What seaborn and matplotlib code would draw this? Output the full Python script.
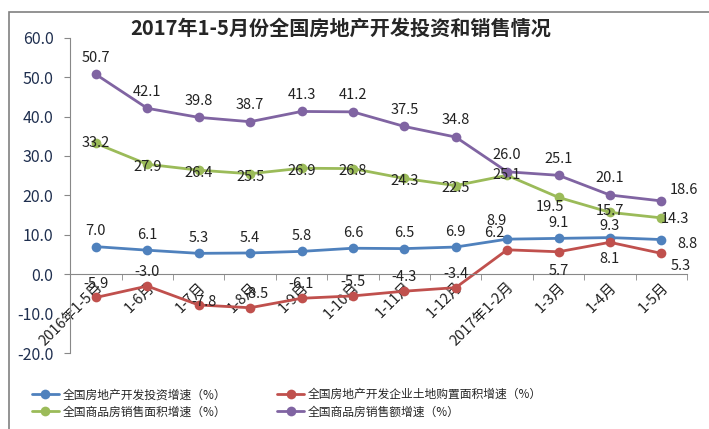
import numpy as np
import pandas as pd
import matplotlib
matplotlib.use("Agg")
import matplotlib.pyplot as plt
from matplotlib.patches import Rectangle
import seaborn as sns

categories = ["2016年1-5月", "1-6月", "1-7月", "1-8月", "1-9月", "1-10月",
              "1-11月", "1-12月", "2017年1-2月", "1-3月", "1-4月", "1-5月"]
invest = [7.0, 6.1, 5.3, 5.4, 5.8, 6.6, 6.5, 6.9, 8.9, 9.1, 9.3, 8.8]
land = [-5.9, -3.0, -7.8, -8.5, -6.1, -5.5, -4.3, -3.4, 6.2, 5.7, 8.1, 5.3]
area = [33.2, 27.9, 26.4, 25.5, 26.9, 26.8, 24.3, 22.5, 25.1, 19.5, 15.7, 14.3]
sales = [50.7, 42.1, 39.8, 38.7, 41.3, 41.2, 37.5, 34.8, 26.0, 25.1, 20.1, 18.6]

names = ["全国房地产开发投资增速（%）", "全国房地产开发企业土地购置面积增速（%）",
         "全国商品房销售面积增速（%）", "全国商品房销售额增速（%）"]
colors = ["#4F81BD", "#C0504D", "#9BBB59", "#8064A2"]

sns.set_style("white")
plt.rcParams["font.family"] = ["Noto Sans CJK SC", "DejaVu Sans"]

rows = []
for name, vals in zip(names, [invest, land, area, sales]):
    for i, v in enumerate(vals):
        rows.append({"x": i, "value": v, "series": name})
df = pd.DataFrame(rows)

fig = plt.figure(figsize=(7.09, 4.29), dpi=100)
fig.patches.append(Rectangle((0.012, -0.02), 1.0, 0.992, transform=fig.transFigure,
                             fill=False, edgecolor="#808080", linewidth=1.2))
ax = fig.add_axes([0.099, 0.177, 0.870, 0.735])

sns.lineplot(data=df, x="x", y="value", hue="series", hue_order=names,
             palette=colors, marker="o", markersize=7, markeredgewidth=0,
             linewidth=2.0, sort=False, ax=ax, legend=True)

# label centre offsets in points
series_off = [(0, 11), (0, 10), (0, -2), (0, 12)]
special = {
    (0, 8): (-8, 13), (0, 10): (0, 8), (0, 11): (19, -3),
    (1, 2): (4, 2), (1, 3): (4, 10), (1, 8): (-9, 12), (1, 9): (0, -14),
    (1, 10): (0, -12), (1, 11): (14, -9),
    (2, 0): (0, 0), (2, 8): (0, 0), (2, 9): (-6, -7), (2, 10): (0, 1),
    (2, 11): (10, -1),
    (3, 11): (16, 8),
}
for s, vals in enumerate([invest, land, area, sales]):
    for i, v in enumerate(vals):
        dx, dy = special.get((s, i), series_off[s])
        ax.annotate(f"{v:.1f}", (i, v), xytext=(dx, dy), textcoords="offset points",
                    ha="center", va="center", fontsize=10.5, color="#222222")

# x axis sits on the zero line (set before tick labels, it resets ticks)
ax.spines["bottom"].set_position(("data", 0))
ax.spines["bottom"].set_color("#888888")
for sp in ["top", "right"]:
    ax.spines[sp].set_visible(False)
ax.spines["left"].set_color("#888888")

ax.set_xlim(-0.5, 11.5)
ax.set_ylim(-20, 60)
ax.set_yticks(np.arange(-20, 61, 10))
ax.set_yticklabels([f"{t:.1f}" for t in np.arange(-20, 61, 10)], fontsize=11.5,
                   color="#1F2F4F")
ax.set_xticks(range(len(categories)))
ax.set_xticks(np.arange(0.5, 11.6, 1.0), minor=True)
ax.set_xticklabels(categories, rotation=45, ha="right", rotation_mode="anchor",
                   fontsize=10.5, color="#222222")
ax.tick_params(axis="x", which="major", length=0, pad=4)
ax.tick_params(axis="x", which="minor", length=4, color="#888888", bottom=True)
ax.tick_params(axis="y", length=4, color="#888888", left=True, pad=8)
ax.set_xlabel("")
ax.set_ylabel("")

ax.get_legend().remove()
handles, labels = ax.get_legend_handles_labels()
order = [0, 2, 1, 3]
fig.legend([handles[k] for k in order], [names[k] for k in order],
           loc="lower left", ncol=2, frameon=False,
           bbox_to_anchor=(0.03, 0.0), fontsize=8.5, columnspacing=4.3,
           handlelength=2.3, labelspacing=0.35, handletextpad=0.3)

fig.text(0.481, 0.935, "2017年1-5月份全国房地产开发投资和销售情况", ha="center",
         va="center", fontsize=14.5, fontweight="bold")

fig.savefig("out.png", dpi=100)
